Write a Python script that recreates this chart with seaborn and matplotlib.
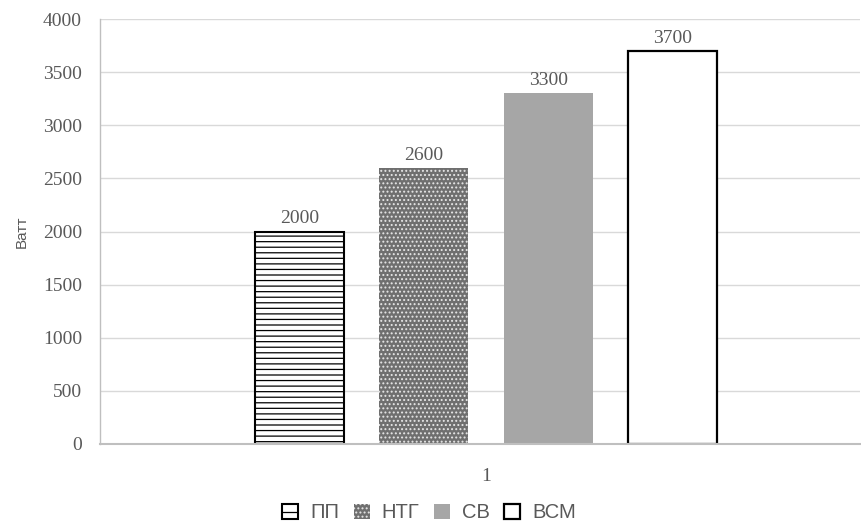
import matplotlib
matplotlib.use("Agg")
import matplotlib.pyplot as plt
import seaborn as sns
import pandas as pd
from matplotlib.patches import Patch

categories = ["1"]
series = ["ПП", "НТГ", "СВ", "ВСМ"]
values = [2000, 2600, 3300, 3700]
y_ticks = [0, 500, 1000, 1500, 2000, 2500, 3000, 3500, 4000]

df = pd.DataFrame({"cat": categories * len(series), "series": series, "value": values})

sns.set_theme(style="white")
plt.rcParams["font.family"] = ["Liberation Sans", "DejaVu Sans"]
plt.rcParams["hatch.linewidth"] = 0.9

styles = {
    "ПП": dict(facecolor="white", edgecolor="black", hatch="---", linewidth=1.5),
    "НТГ": dict(facecolor="#6f6f6f", edgecolor="#e6e6e6", hatch="....", linewidth=0),
    "СВ": dict(facecolor="#a6a6a6", edgecolor="#a6a6a6", hatch=None, linewidth=0),
    "ВСМ": dict(facecolor="white", edgecolor="black", hatch=None, linewidth=1.6),
}

num_font = dict(family="Liberation Serif", fontsize=14, color="#595959")

fig = plt.figure(figsize=(8.61, 5.24), dpi=100)
ax = fig.add_axes([100 / 861, 1 - 444 / 524, 760 / 861, 425 / 524])

sns.barplot(data=df, x="cat", y="value", hue="series", hue_order=series,
            width=0.655, dodge=True, legend=False, ax=ax, errorbar=None)

bar_w = 89 / 760
for cont, name in zip(ax.containers, series):
    for p in cont:
        cx = p.get_x() + p.get_width() / 2
        p.set_width(bar_w)
        p.set_x(cx - bar_w / 2)
        st = styles[name]
        p.set_facecolor(st["facecolor"])
        p.set_edgecolor(st["edgecolor"])
        p.set_linewidth(st["linewidth"])
        if st["hatch"]:
            p.set_hatch(st["hatch"])
    ax.bar_label(cont, labels=[f"{v:.0f}" for v in cont.datavalues], padding=3, **num_font)

ax.set_xlim(-0.508, 0.492)
ax.set_ylim(0, 4000)
ax.set_yticks(y_ticks)
ax.set_yticklabels([str(t) for t in y_ticks], **num_font)
ax.set_xticks([0])
ax.set_xticklabels(categories, **num_font)
ax.tick_params(axis="x", length=0, pad=17)
ax.tick_params(axis="y", length=0, pad=13)
ax.yaxis.grid(True, color="#d9d9d9", linewidth=1)
ax.set_axisbelow(True)
for s in ["top", "right"]:
    ax.spines[s].set_visible(False)
ax.spines["left"].set_color("#bfbfbf")
ax.spines["left"].set_linewidth(1)
ax.spines["bottom"].set_color("#bfbfbf")
ax.spines["bottom"].set_linewidth(1.5)
ax.set_xlabel("")
ax.set_ylabel("Ватт", fontsize=11, color="#595959", labelpad=10)

handles = []
for name in series:
    st = styles[name]
    handles.append(Patch(facecolor=st["facecolor"], edgecolor=st["edgecolor"],
                         hatch=st["hatch"], linewidth=max(st["linewidth"], 0)))
handles[0].set_hatch("--")
fig.legend(handles, series, loc="center", bbox_to_anchor=(429 / 861, 1 - 513 / 524),
           ncol=4, frameon=False, fontsize=14.5, handlelength=0.8, handleheight=0.8,
           handletextpad=0.6, columnspacing=0.7, labelcolor="#595959",
           borderpad=0, borderaxespad=0)

fig.savefig("out.png", dpi=100)
